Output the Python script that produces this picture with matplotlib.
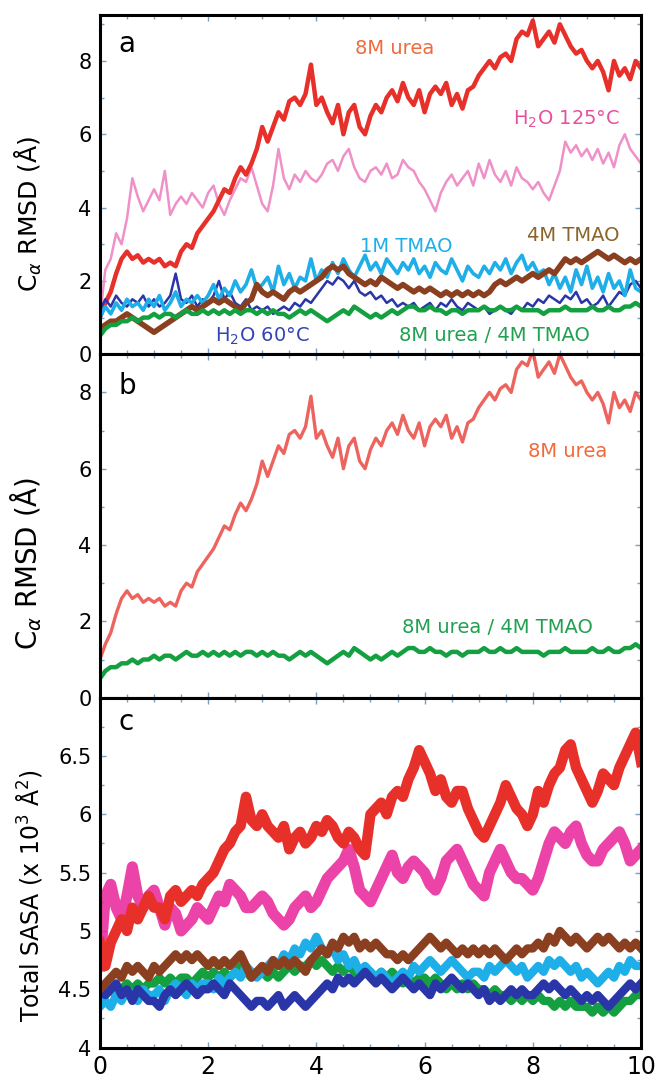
import matplotlib
matplotlib.use('Agg')

import numpy as np
import matplotlib.pyplot as plt
from matplotlib.ticker import MultipleLocator

# time axis (ns), 0.1 ns steps
time_ns = np.arange(101) / 10.0

# ---- panel a / b : C-alpha RMSD (A) ----
rmsd_urea8 = [
    1.0, 1.4, 1.7, 2.2, 2.6, 2.8, 2.6, 2.7, 2.5, 2.6,
    2.5, 2.6, 2.4, 2.5, 2.4, 2.8, 3.0, 2.9, 3.3, 3.5,
    3.7, 3.9, 4.2, 4.5, 4.4, 4.8, 5.1, 4.9, 5.2, 5.6,
    6.2, 5.8, 6.2, 6.6, 6.4, 6.9, 7.0, 6.8, 7.1, 7.9,
    6.8, 7.0, 6.6, 6.3, 6.8, 6.0, 6.6, 6.8, 6.2, 6.0,
    6.5, 6.8, 6.6, 7.0, 7.2, 6.9, 7.4, 7.0, 6.8, 7.2,
    6.6, 7.1, 7.3, 7.1, 7.4, 6.8, 7.1, 6.7, 7.2, 7.3,
    7.6, 7.8, 8.0, 7.8, 8.1, 8.2, 8.0, 8.6, 8.8, 8.7,
    9.1, 8.4, 8.6, 8.8, 8.5, 9.0, 8.7, 8.4, 8.2, 8.3,
    8.0, 7.8, 8.0, 7.7, 7.2, 8.0, 7.6, 7.8, 7.5, 8.0,
    7.8]
rmsd_h2o125 = [
    1.0, 2.3, 2.6, 3.3, 3.0, 3.7, 4.8, 4.3, 3.9, 4.2,
    4.5, 4.2, 5.0, 3.8, 4.1, 4.3, 4.1, 4.4, 4.2, 4.0,
    4.4, 4.6, 4.1, 3.8, 4.2, 4.5, 4.8, 4.7, 5.1, 4.6,
    4.1, 3.9, 4.6, 5.6, 4.8, 4.5, 4.9, 4.7, 5.0, 4.8,
    4.7, 4.9, 5.2, 5.3, 5.0, 5.4, 5.6, 5.1, 4.8, 4.7,
    5.0, 5.1, 4.9, 5.2, 4.8, 4.9, 5.3, 5.1, 5.0, 4.7,
    4.5, 4.2, 3.9, 4.4, 4.7, 4.9, 4.6, 4.8, 5.0, 4.6,
    5.2, 4.8, 5.3, 4.9, 4.7, 5.0, 4.6, 5.1, 4.8, 4.7,
    4.5, 4.7, 4.4, 4.2, 4.6, 5.0, 5.8, 5.5, 5.7, 5.4,
    5.6, 5.3, 5.6, 5.2, 5.5, 5.1, 5.7, 6.0, 5.6, 5.4,
    5.2]
rmsd_tmao1 = [
    1.0, 1.3, 1.1, 1.4, 1.2, 1.5, 1.3, 1.4, 1.2, 1.5,
    1.3, 1.6, 1.2, 1.4, 1.7, 1.3, 1.5, 1.4, 1.6, 1.4,
    1.6, 1.9, 1.5, 1.8, 1.6, 2.0, 1.7, 1.9, 2.3, 1.8,
    1.9, 2.1, 1.7, 2.4, 1.9, 2.2, 1.8, 2.1, 2.0, 2.6,
    2.0, 2.3, 2.1, 2.5, 2.2, 2.6, 2.3, 2.1, 2.4, 2.7,
    2.3, 2.5, 2.2, 2.6, 2.4, 2.2, 2.5, 2.3, 2.6, 2.2,
    2.4, 2.1, 2.5, 2.3, 2.2, 2.6, 2.3, 2.0, 2.4, 2.2,
    2.1, 2.4, 2.2, 2.5, 2.3, 2.6, 2.2, 2.5, 2.7, 2.3,
    2.5, 2.2, 2.3, 1.9, 2.2, 1.8, 2.1, 1.7, 2.3, 1.9,
    2.4, 1.8, 2.1, 1.7, 2.2, 1.8, 2.0, 1.6, 2.3, 1.8,
    1.7]
rmsd_h2o60 = [
    1.2, 1.5, 1.3, 1.6, 1.4, 1.3, 1.5, 1.4, 1.6, 1.3,
    1.5, 1.3, 1.4, 1.6, 2.2, 1.5, 1.4, 1.6, 1.3, 1.5,
    1.4, 1.6, 2.0, 1.5, 1.7, 1.4, 1.3, 1.5, 1.2, 1.3,
    1.2, 1.3, 1.1, 1.2, 1.3, 1.2, 1.4, 1.3, 1.5, 1.4,
    1.6, 1.8, 2.0, 1.9, 2.1, 2.0, 1.8, 2.0, 1.7, 1.6,
    1.7, 1.5, 1.6, 1.4, 1.5, 1.3, 1.4, 1.3, 1.4, 1.2,
    1.3, 1.4, 1.2, 1.4, 1.3, 1.5, 1.3, 1.2, 1.4, 1.3,
    1.2, 1.3, 1.1, 1.2, 1.3, 1.2, 1.1, 1.3, 1.2, 1.4,
    1.3, 1.5, 1.4, 1.6, 1.5, 1.4, 1.6, 1.5, 1.7, 1.4,
    1.5, 1.3, 1.4, 1.6, 1.3, 1.5, 1.7, 1.6, 1.9, 2.0,
    1.8]
rmsd_tmao4 = [
    0.7, 0.8, 0.9, 0.9, 1.0, 1.1, 1.0, 0.9, 0.8, 0.7,
    0.6, 0.7, 0.8, 0.9, 1.0, 1.1, 1.2, 1.3, 1.2, 1.3,
    1.4, 1.5, 1.4, 1.5, 1.4, 1.3, 1.2, 1.4, 1.5, 1.9,
    1.7, 1.6, 1.7, 1.6, 1.5, 1.7, 1.8, 1.7, 1.8, 1.9,
    2.0, 2.1, 2.3, 2.4, 2.3, 2.4, 2.2, 2.1, 2.0, 1.9,
    2.0, 1.9, 2.1, 2.0, 1.9, 1.8, 1.9, 1.8, 1.7, 1.8,
    1.7, 1.8, 1.7, 1.6, 1.7, 1.6, 1.7, 1.6, 1.7, 1.6,
    1.7, 1.6, 1.7, 1.9, 2.0, 1.9, 2.0, 2.1, 2.0, 2.1,
    2.2, 2.1, 2.2, 2.3, 2.2, 2.4, 2.6, 2.5, 2.6, 2.5,
    2.6, 2.7, 2.8, 2.7, 2.6, 2.7, 2.6, 2.5, 2.6, 2.5,
    2.6]
rmsd_mix = [
    0.5, 0.7, 0.8, 0.8, 0.9, 0.9, 1.0, 0.9, 1.0, 1.0,
    1.1, 1.0, 1.1, 1.1, 1.0, 1.1, 1.2, 1.1, 1.1, 1.2,
    1.1, 1.2, 1.1, 1.2, 1.1, 1.2, 1.1, 1.2, 1.2, 1.1,
    1.2, 1.1, 1.2, 1.1, 1.1, 1.0, 1.1, 1.2, 1.1, 1.2,
    1.1, 1.0, 0.9, 1.0, 1.1, 1.2, 1.1, 1.3, 1.2, 1.1,
    1.0, 1.1, 1.0, 1.1, 1.2, 1.1, 1.2, 1.3, 1.3, 1.2,
    1.2, 1.3, 1.2, 1.2, 1.1, 1.2, 1.2, 1.1, 1.2, 1.2,
    1.2, 1.3, 1.2, 1.2, 1.3, 1.2, 1.2, 1.3, 1.2, 1.2,
    1.2, 1.2, 1.1, 1.2, 1.2, 1.2, 1.3, 1.2, 1.2, 1.2,
    1.2, 1.3, 1.2, 1.2, 1.3, 1.2, 1.2, 1.3, 1.3, 1.4,
    1.3]

# ---- panel c : total SASA (x 10^3 A^2) ----
sasa_urea8 = [
    4.9, 4.7, 4.9, 5.0, 5.1, 5.0, 5.2, 5.1, 5.2, 5.3,
    5.2, 5.2, 5.1, 5.3, 5.35, 5.25, 5.3, 5.35, 5.3, 5.4,
    5.45, 5.5, 5.6, 5.7, 5.75, 5.85, 5.9, 6.15, 5.95, 5.9,
    6.0, 5.9, 5.85, 5.8, 5.9, 5.7, 5.8, 5.85, 5.75, 5.8,
    5.9, 5.85, 5.95, 5.9, 5.8, 5.75, 5.85, 5.8, 5.7, 5.65,
    6.0, 6.05, 6.1, 6.0, 6.15, 6.2, 6.15, 6.3, 6.4, 6.55,
    6.45, 6.35, 6.2, 6.3, 6.15, 6.1, 6.2, 6.2, 6.05, 5.95,
    5.85, 5.8, 5.9, 6.0, 6.1, 6.25, 6.15, 6.05, 6.0, 5.9,
    6.0, 6.2, 6.1, 6.25, 6.35, 6.4, 6.55, 6.6, 6.4, 6.3,
    6.2, 6.1, 6.2, 6.35, 6.3, 6.25, 6.4, 6.5, 6.6, 6.7,
    6.45]
sasa_h2o125 = [
    4.7, 5.3, 5.4, 5.2, 5.1, 5.3, 5.55, 5.3, 5.2, 5.3,
    5.35, 5.2, 5.05, 5.2, 5.15, 5.0, 5.05, 5.1, 5.2, 5.15,
    5.1, 5.2, 5.3, 5.25, 5.4, 5.35, 5.3, 5.2, 5.2, 5.25,
    5.3, 5.25, 5.15, 5.1, 5.05, 5.1, 5.2, 5.25, 5.3, 5.2,
    5.25, 5.35, 5.45, 5.5, 5.55, 5.6, 5.7, 5.55, 5.35, 5.3,
    5.25, 5.35, 5.45, 5.55, 5.65, 5.5, 5.45, 5.55, 5.6, 5.55,
    5.5, 5.4, 5.35, 5.45, 5.6, 5.65, 5.7, 5.6, 5.5, 5.4,
    5.35, 5.3, 5.5, 5.6, 5.7, 5.6, 5.5, 5.45, 5.45, 5.4,
    5.35, 5.45, 5.6, 5.75, 5.85, 5.8, 5.75, 5.85, 5.9, 5.75,
    5.65, 5.6, 5.6, 5.7, 5.75, 5.8, 5.85, 5.75, 5.6, 5.65,
    5.7]
sasa_tmao4 = [
    4.5, 4.55, 4.6, 4.65, 4.6, 4.7, 4.65, 4.7, 4.65, 4.6,
    4.7, 4.65, 4.7, 4.75, 4.8, 4.75, 4.8, 4.75, 4.8, 4.75,
    4.7, 4.75, 4.7, 4.75, 4.7, 4.75, 4.8, 4.7, 4.6, 4.65,
    4.7, 4.65, 4.75, 4.7, 4.75, 4.7, 4.75, 4.7, 4.65, 4.75,
    4.8, 4.85, 4.8, 4.9, 4.85, 4.95, 4.9, 4.95, 4.85, 4.9,
    4.85, 4.9, 4.85, 4.8, 4.8, 4.75, 4.8, 4.75, 4.8, 4.85,
    4.9, 4.95, 4.9, 4.85, 4.9, 4.85, 4.8, 4.85, 4.8, 4.85,
    4.8, 4.85, 4.8, 4.85, 4.8, 4.75, 4.8, 4.85, 4.8, 4.85,
    4.85, 4.9, 4.85, 4.95, 4.9, 5.0, 4.95, 4.9, 4.95, 4.9,
    4.85, 4.9, 4.95, 4.9, 4.95, 4.9, 4.85, 4.9, 4.85, 4.9,
    4.85]
sasa_tmao1 = [
    4.35, 4.4, 4.35, 4.45, 4.4, 4.5, 4.45, 4.4, 4.5, 4.45,
    4.45, 4.5, 4.4, 4.5, 4.55, 4.5, 4.45, 4.55, 4.5, 4.55,
    4.55, 4.5, 4.6, 4.55, 4.6, 4.65, 4.6, 4.7, 4.65, 4.6,
    4.65, 4.7, 4.75, 4.7, 4.8, 4.75, 4.85, 4.8, 4.9, 4.85,
    4.95, 4.85, 4.8, 4.85, 4.75, 4.8, 4.7, 4.75, 4.65, 4.7,
    4.65, 4.6, 4.65, 4.6, 4.55, 4.6, 4.65, 4.6, 4.7, 4.65,
    4.7, 4.75, 4.7, 4.65, 4.7, 4.75, 4.7, 4.65, 4.6, 4.65,
    4.65, 4.6, 4.7, 4.65, 4.7, 4.75, 4.7, 4.65, 4.7, 4.6,
    4.65, 4.7, 4.65, 4.75, 4.7, 4.75, 4.7, 4.65, 4.7, 4.6,
    4.65, 4.6, 4.55, 4.6, 4.65, 4.6, 4.7, 4.65, 4.75, 4.7,
    4.7]
sasa_h2o60 = [
    4.5, 4.45, 4.5, 4.55, 4.45, 4.5, 4.4, 4.5, 4.45, 4.4,
    4.4, 4.35, 4.45, 4.5, 4.45, 4.5, 4.55, 4.5, 4.45, 4.5,
    4.5, 4.55, 4.5, 4.45, 4.55, 4.5, 4.45, 4.4, 4.35, 4.4,
    4.4, 4.35, 4.4, 4.45, 4.35, 4.4, 4.45, 4.4, 4.35, 4.4,
    4.45, 4.5, 4.55, 4.5, 4.6, 4.55, 4.6, 4.55, 4.6, 4.65,
    4.6, 4.55, 4.6, 4.55, 4.5, 4.55, 4.6, 4.55, 4.5, 4.55,
    4.5, 4.45, 4.55, 4.5, 4.55, 4.6, 4.55, 4.5, 4.55, 4.5,
    4.45, 4.5, 4.4, 4.45, 4.4, 4.45, 4.5, 4.45, 4.5, 4.45,
    4.45, 4.5, 4.55, 4.5, 4.55, 4.5, 4.45, 4.5, 4.45, 4.4,
    4.45, 4.4, 4.45, 4.4, 4.35, 4.4, 4.45, 4.5, 4.55, 4.5,
    4.55]
sasa_mix = [
    4.4, 4.45, 4.5, 4.45, 4.5, 4.55, 4.5, 4.55, 4.5, 4.55,
    4.55, 4.6, 4.55, 4.6, 4.55, 4.6, 4.6, 4.55, 4.6, 4.65,
    4.6, 4.65, 4.6, 4.65, 4.6, 4.65, 4.7, 4.65, 4.6, 4.65,
    4.65, 4.6, 4.65, 4.6, 4.65, 4.7, 4.65, 4.7, 4.7, 4.75,
    4.7, 4.75, 4.7, 4.65, 4.7, 4.65, 4.7, 4.65, 4.6, 4.65,
    4.65, 4.6, 4.65, 4.6, 4.65, 4.6, 4.55, 4.6, 4.55, 4.6,
    4.6, 4.55, 4.6, 4.55, 4.5, 4.55, 4.5, 4.55, 4.5, 4.55,
    4.5, 4.5, 4.45, 4.5, 4.45, 4.45, 4.4, 4.45, 4.4, 4.45,
    4.4, 4.45, 4.4, 4.4, 4.35, 4.4, 4.35, 4.4, 4.35, 4.35,
    4.35, 4.3, 4.35, 4.3, 4.35, 4.3, 4.35, 4.4, 4.4, 4.45,
    4.45]

c_red = '#e8302a'
c_pink = '#f090c8'
c_magenta = '#e82298'
c_blue = '#2a36a8'
c_cyan = '#1eaee8'
c_brown = '#8a4020'
c_green = '#14a040'

fig = plt.figure(figsize=(6.66, 10.8), dpi=100)
left, width = 0.150, 0.8125
ax_a = fig.add_axes([left, 0.672, width, 0.314])
ax_b = fig.add_axes([left, 0.354, width, 0.318])
ax_c = fig.add_axes([left, 0.030, width, 0.324])


def style(ax):
    for sp in ax.spines.values():
        sp.set_linewidth(2.2)
    ax.set_xlim(0, 10)
    ax.xaxis.set_major_locator(MultipleLocator(2))
    ax.xaxis.set_minor_locator(MultipleLocator(0.5))
    ax.tick_params(which='both', direction='in', top=True, right=True,
                   color='#7aa0c0')
    ax.tick_params(axis='y', labelsize=15, pad=6)
    ax.tick_params(axis='x', labelsize=17, pad=5)
    ax.tick_params(which='major', length=4, width=1)
    ax.tick_params(which='minor', length=3, width=1)


lbl = dict(fontsize=14, ha='center', va='center')
ylab_x = -0.104

# panel a
ax_a.plot(time_ns, rmsd_h2o125, color=c_pink, lw=1.8)
ax_a.plot(time_ns, rmsd_urea8, color=c_red, lw=3.2)
ax_a.plot(time_ns, rmsd_h2o60, color=c_blue, lw=1.8)
ax_a.plot(time_ns, rmsd_tmao1, color=c_cyan, lw=2.6)
ax_a.plot(time_ns, rmsd_tmao4, color=c_brown, lw=4.0)
ax_a.plot(time_ns, rmsd_mix, color=c_green, lw=3.2)
style(ax_a)
ax_a.set_ylim(0, 9.25)
ax_a.set_yticks([0, 2, 4, 6, 8])
ax_a.yaxis.set_minor_locator(MultipleLocator(1))
ax_a.tick_params(labelbottom=False)
ax_a.text(0.35, 8.25, 'a', fontsize=20)
ax_a.text(5.45, 8.33, '8M urea', color='#f06a3a', **lbl)
ax_a.text(8.63, 6.4, 'H$_2$O 125$\\degree$C', color='#e8509e', **lbl)
ax_a.text(5.66, 2.93, '1M TMAO', color=c_cyan, **lbl)
ax_a.text(8.75, 3.25, '4M TMAO', color='#8a6428', **lbl)
ax_a.text(3.0, 0.5, 'H$_2$O 60$\\degree$C', color='#3444b4', **lbl)
ax_a.text(7.3, 0.5, '8M urea / 4M TMAO', color='#20a050', **lbl)
ax_a.set_ylabel('C$_{\\alpha}$ RMSD (Å)', fontsize=18)
ax_a.yaxis.set_label_coords(ylab_x, 0.415)

# panel b
ax_b.plot(time_ns, rmsd_urea8, color=c_red, lw=2.4, alpha=0.75)
ax_b.plot(time_ns, rmsd_mix, color=c_green, lw=3.2)
style(ax_b)
ax_b.set_ylim(0, 9.0)
ax_b.set_yticks([0, 2, 4, 6, 8])
ax_b.yaxis.set_minor_locator(MultipleLocator(1))
ax_b.tick_params(labelbottom=False)
ax_b.text(0.35, 7.95, 'b', fontsize=20)
ax_b.text(8.65, 6.45, '8M urea', color='#f06a3a', **lbl)
ax_b.text(7.35, 1.85, '8M urea / 4M TMAO', color='#20a050', **lbl)
ax_b.set_ylabel('C$_{\\alpha}$ RMSD (Å)', fontsize=20)
ax_b.yaxis.set_label_coords(ylab_x, 0.39)

# panel c
ax_c.plot(time_ns, sasa_mix, color=c_green, lw=6)
ax_c.plot(time_ns, sasa_tmao1, color=c_cyan, lw=6)
ax_c.plot(time_ns, sasa_h2o60, color=c_blue, lw=6)
ax_c.plot(time_ns, sasa_tmao4, color=c_brown, lw=6)
ax_c.plot(time_ns, sasa_h2o125, color=c_magenta, lw=8, alpha=0.85)
ax_c.plot(time_ns, sasa_urea8, color=c_red, lw=7.5)
style(ax_c)
ax_c.set_ylim(4, 7.0)
ax_c.set_yticks([4, 4.5, 5, 5.5, 6, 6.5])
ax_c.set_yticklabels(['4', '4.5', '5', '5.5', '6', '6.5'])
ax_c.yaxis.set_minor_locator(MultipleLocator(0.25))
ax_c.text(0.35, 6.72, 'c', fontsize=20)
ax_c.set_ylabel('Total SASA (x 10$^3$ Å$^2$)', fontsize=17)
ax_c.yaxis.set_label_coords(ylab_x, 0.434)

fig.savefig('out.png', dpi=100)
